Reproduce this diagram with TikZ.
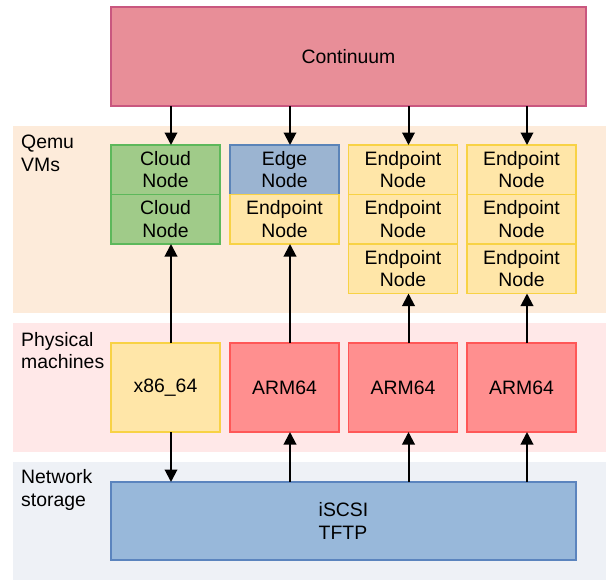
\documentclass[tikz,border=0pt]{standalone}
\usepackage{fontspec}
\setmainfont{Liberation Sans}
\usetikzlibrary{arrows.meta}
\definecolor{contF}{HTML}{E88E98}
\definecolor{contD}{HTML}{C9577F}
\definecolor{cloudF}{HTML}{A0CB89}
\definecolor{cloudD}{HTML}{5DB85B}
\definecolor{edgeF}{HTML}{9BB4D1}
\definecolor{edgeD}{HTML}{5B84B8}
\definecolor{endF}{HTML}{FFE6A8}
\definecolor{endD}{HTML}{F8D245}
\definecolor{armF}{HTML}{FF8F8F}
\definecolor{armD}{HTML}{FF5757}
\definecolor{stoF}{HTML}{98B8DA}
\definecolor{stoD}{HTML}{5B84BE}
\definecolor{bandQ}{HTML}{FDEBDA}
\definecolor{bandP}{HTML}{FFE8E8}
\definecolor{bandN}{HTML}{EEF1F6}
\tikzset{
  box/.style={draw, line width=1.1pt, anchor=north west, inner sep=0pt, outer sep=0pt,
    minimum width=109pt, align=center, font=\fontsize{19.4}{22.5}\selectfont},
  cloudbox/.style={box, fill=cloudF, draw=cloudD, minimum height=49.5pt},
  edgebox/.style={box, fill=edgeF, draw=edgeD, minimum height=49.5pt},
  endbox/.style={box, fill=endF, draw=endD, minimum height=49.5pt},
  physbox/.style={box, minimum height=89pt},
  band/.style={anchor=north west, inner sep=0pt, outer sep=0pt, minimum width=593pt},
  bandlabel/.style={anchor=north west, inner sep=0pt, align=left, font=\fontsize{19.4}{22.5}\selectfont},
  arr/.style={line width=2pt, -{Triangle[length=12.5pt, width=12.5pt]}},
}
\begin{document}
\begin{tikzpicture}[x=1pt, y=-1pt]
\useasboundingbox (0,0) rectangle (608,582);
% bands
\node[band, fill=bandQ, minimum height=187pt] (bq) at (13,126) {};
\node[band, fill=bandP, minimum height=129pt] (bp) at (13,323) {};
\node[band, fill=bandN, minimum height=118pt] (bn) at (13,462) {};
\node[bandlabel] (lq) at (21,135) {Qemu\\VMs};
\node[bandlabel] (lp) at (21,332) {Physical\\machines};
\node[bandlabel] (ln) at (21,469.5) {Network\\storage};
% continuum
\node[box, fill=contF, draw=contD, minimum width=475pt, minimum height=99pt] (cont) at (111,7) {Continuum};
% VMs
\node[cloudbox] (c1a) at (111,145) {Cloud\\Node};
\node[cloudbox] (c1b) at (111,194.5) {Cloud\\Node};
\node[edgebox] (c2a) at (230,145) {Edge\\Node};
\node[endbox] (c2b) at (230,194.5) {Endpoint\\Node};
\node[endbox] (c3a) at (348.5,145) {Endpoint\\Node};
\node[endbox] (c3b) at (348.5,194.5) {Endpoint\\Node};
\node[endbox] (c3c) at (348.5,244) {Endpoint\\Node};
\node[endbox] (c4a) at (467,145) {Endpoint\\Node};
\node[endbox] (c4b) at (467,194.5) {Endpoint\\Node};
\node[endbox] (c4c) at (467,244) {Endpoint\\Node};
% physical
\node[physbox, fill=endF, draw=endD] (p1) at (111,343) {x86\_64};
\node[physbox, fill=armF, draw=armD] (p2) at (230,343) {ARM64};
\node[physbox, fill=armF, draw=armD] (p3) at (348.5,343) {ARM64};
\node[physbox, fill=armF, draw=armD] (p4) at (467,343) {ARM64};
% storage
\node[box, fill=stoF, draw=stoD, minimum width=465pt, minimum height=78pt, align=left] (sto) at (111,482) {iSCSI\\TFTP};
% arrow anchor points (offset from box centres as in the reference)
\coordinate (t1) at ([xshift=5.5pt]c1a.north);
\coordinate (t2) at ([xshift=5.5pt]c2a.north);
\coordinate (t3) at ([xshift=5.5pt]c3a.north);
\coordinate (t4) at ([xshift=5.5pt]c4a.north);
\coordinate (v1) at ([xshift=5.5pt]c1b.south);
\coordinate (v2) at ([xshift=5.5pt]c2b.south);
\coordinate (v3) at ([xshift=5.5pt]c3c.south);
\coordinate (v4) at ([xshift=5.5pt]c4c.south);
\coordinate (pt1) at ([xshift=5.5pt]p1.north);
\coordinate (pt2) at ([xshift=5.5pt]p2.north);
\coordinate (pt3) at ([xshift=5.5pt]p3.north);
\coordinate (pt4) at ([xshift=5.5pt]p4.north);
\coordinate (pb1) at ([xshift=5.5pt]p1.south);
\coordinate (pb2) at ([xshift=5.5pt]p2.south);
\coordinate (pb3) at ([xshift=5.5pt]p3.south);
\coordinate (pb4) at ([xshift=5.5pt]p4.south);
% arrows
\foreach \c in {1,2,3,4}{
  \draw[arr] (cont.south -| t\c) -- (t\c);
  \draw[arr] (pt\c) -- (v\c);
}
\draw[arr] (pb1) -- (sto.north -| pb1);
\draw[arr] (sto.north -| pb2) -- (pb2);
\draw[arr] (sto.north -| pb3) -- (pb3);
\draw[arr] (sto.north -| pb4) -- (pb4);
\end{tikzpicture}
\end{document}
